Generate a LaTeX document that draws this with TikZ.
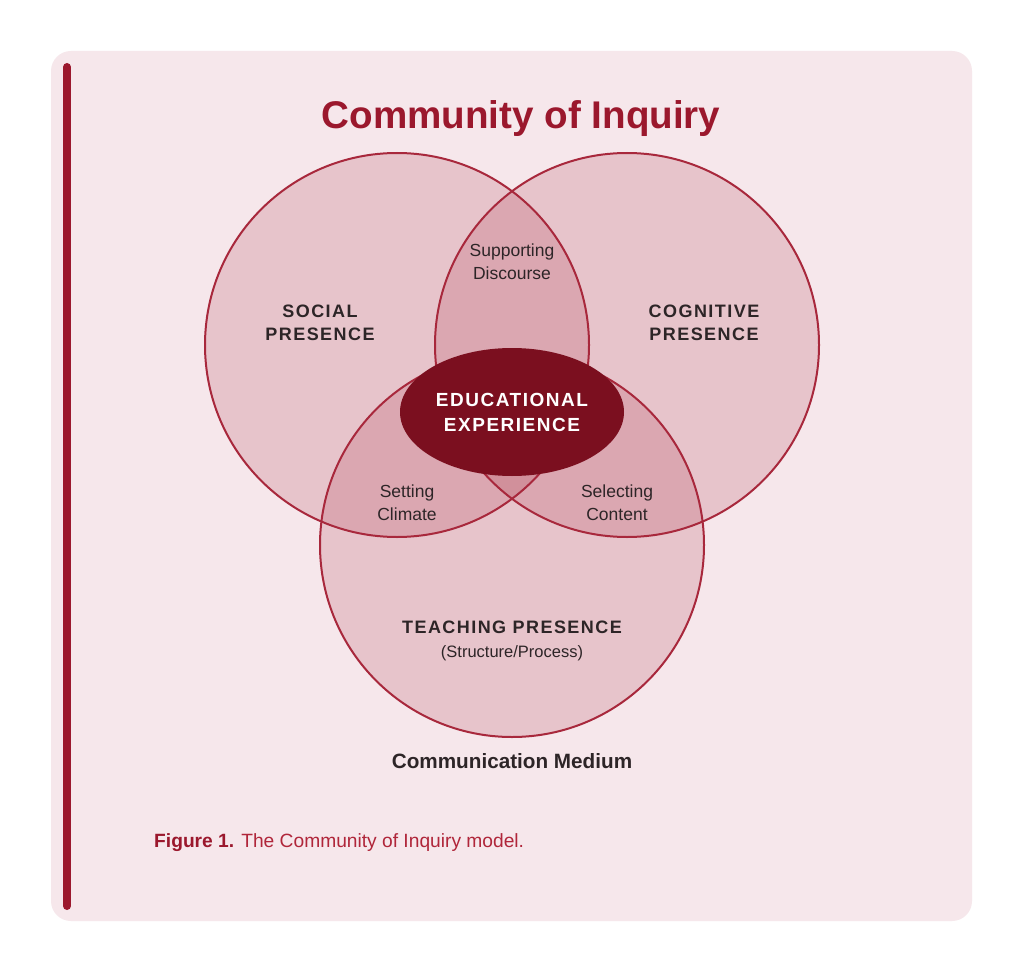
\documentclass[tikz,border=0pt]{standalone}
\usepackage{fontspec}
\setmainfont{Liberation Sans}
\newfontfamily\spacedfont[LetterSpace=8]{Liberation Sans}
\usetikzlibrary{shapes.geometric}
\definecolor{panelbg}{RGB}{246,231,235}
\definecolor{crimson}{RGB}{155,24,45}
\definecolor{ringcol}{RGB}{168,40,60}
\definecolor{core}{RGB}{123,15,31}
\definecolor{ink}{RGB}{45,37,39}
\definecolor{capred}{RGB}{176,38,58}
\tikzset{
  x=1pt, y=-1pt,
  ring/.style={circle, draw=ringcol, line width=2pt, fill=ringcol, fill opacity=0.18, draw opacity=1, minimum size=384pt, inner sep=0pt},
  presence/.style={text=ink, align=center, font=\spacedfont\bfseries\fontsize{18}{23}\selectfont},
  overlap/.style={text=ink, align=center, font=\fontsize{17.5}{23}\selectfont},
}
\begin{document}
\begin{tikzpicture}
\useasboundingbox (0,0) rectangle (1024,973);
\fill[white] (0,0) rectangle (1024,973);
\fill[panelbg, rounded corners=20pt] (51,51) rectangle (972,921);
\coordinate (bartop) at (67,67);
\coordinate (barbot) at (67,906);
\draw[crimson, line width=8pt, line cap=round] (bartop) -- (barbot);
\node[text=crimson, font=\bfseries\fontsize{38.6}{44}\selectfont] (title) at (521,119) {Community of Inquiry};
\node[ring] (social) at (397,345) {};
\node[ring] (cognitive) at (627,345) {};
\node[ring] (teaching) at (512,545) {};
\node[ellipse, fill=core, minimum width=224pt, minimum height=128pt, inner sep=0pt, text=white, align=center, font=\spacedfont\bfseries\fontsize{19}{25}\selectfont] (edu) at (512,412) {EDUCATIONAL\\EXPERIENCE};
\node[presence] (sociallbl) at (320,322.5) {SOCIAL\\PRESENCE};
\node[presence] (cognitivelbl) at (704,322.5) {COGNITIVE\\PRESENCE};
\node[presence] (teachinglbl) at (512,627) {TEACHING PRESENCE};
\node[text=ink, font=\fontsize{16.5}{20}\selectfont] (structure) at (512,653) {(Structure/Process)};
\node[overlap] (discourse) at (512,261.5) {Supporting\\Discourse};
\node[overlap] (climate) at (407,502.5) {Setting\\Climate};
\node[overlap] (content) at (617,502.5) {Selecting\\Content};
\node[text=ink, font=\bfseries\fontsize{20.7}{24}\selectfont] (medium) at (512,761) {Communication Medium};
\node[anchor=west, text=capred, font=\fontsize{19.2}{23}\selectfont, inner sep=0pt] (caption) at (154,843) {\textcolor{crimson}{\bfseries Figure 1.} The Community of Inquiry model.};
\end{tikzpicture}
\end{document}
